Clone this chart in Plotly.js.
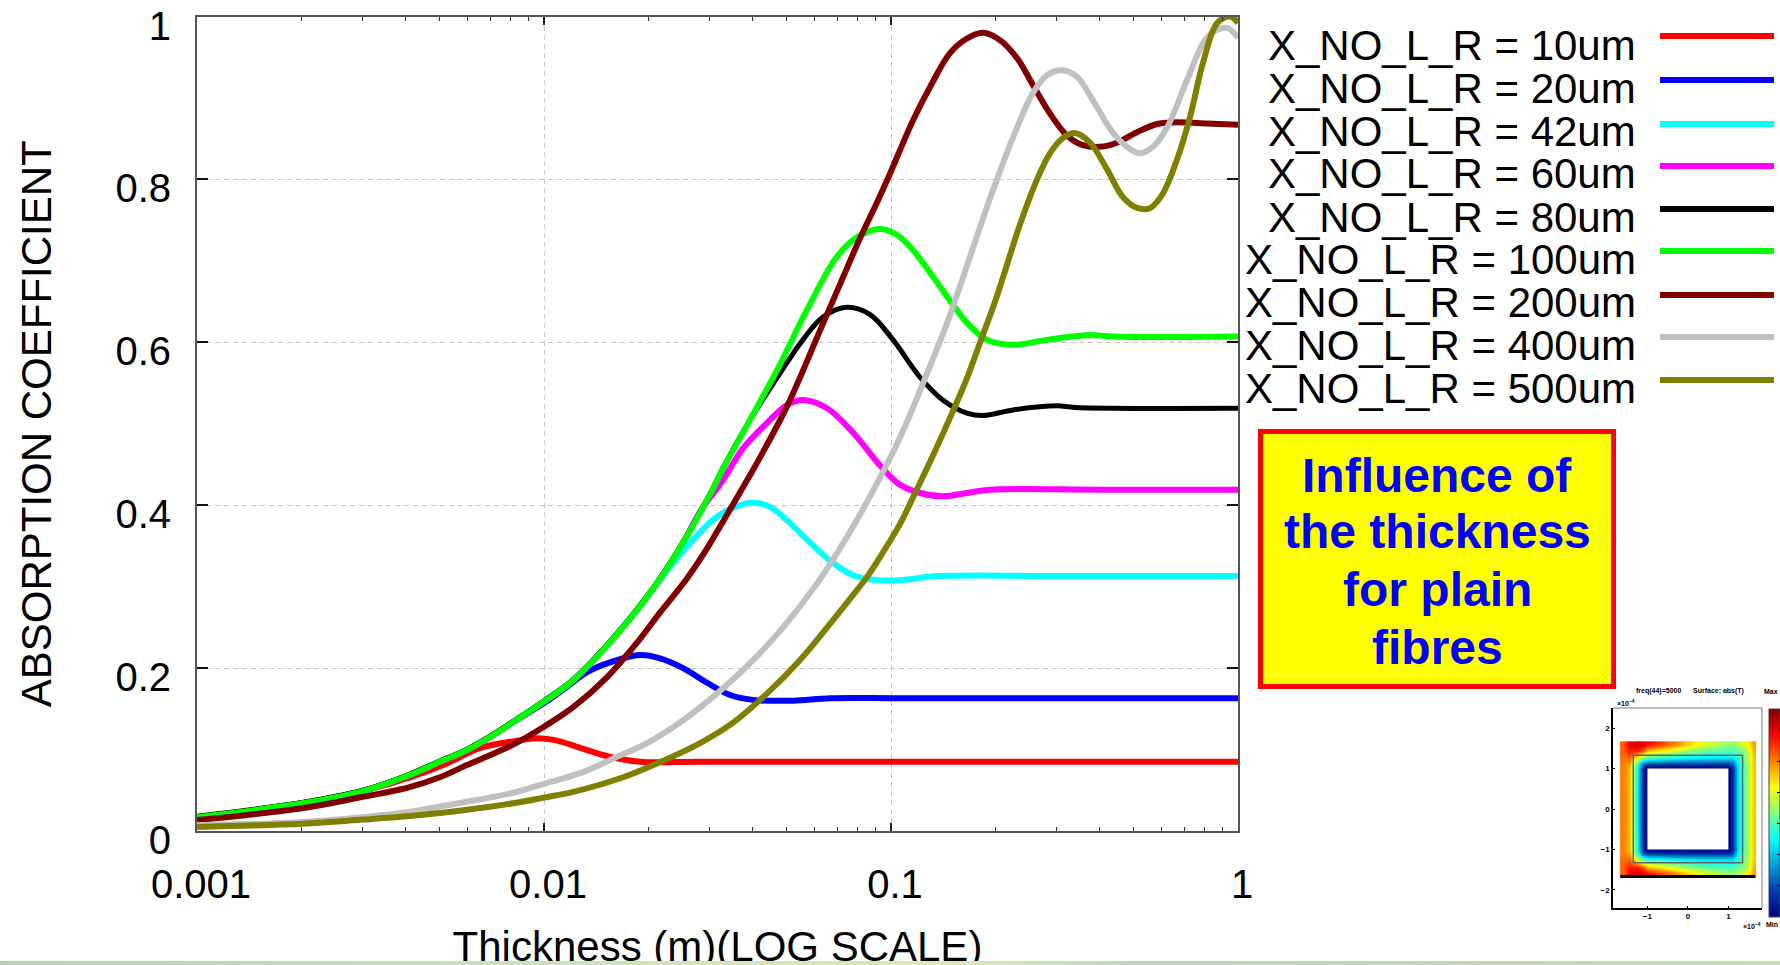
<!DOCTYPE html>
<html><head><meta charset="utf-8">
<script src="https://cdn.plot.ly/plotly-3.0.1.min.js"></script>
<style>html,body{margin:0;padding:0;background:#fff;overflow:hidden;height:965px}
#chart{width:1780px;height:980px}
#strip{position:absolute;left:0;top:961px;width:1780px;height:4px;background:linear-gradient(to right,#bcd0b0,#c8dcb8 22%,#dfe8b8 54%,#bcd8b8 64%,#c8dcb0)}</style>
</head><body><div id="chart"></div><div id="strip"></div>
<script>
const seriesNames=['X_NO_L_R = 10um','X_NO_L_R = 20um','X_NO_L_R = 42um','X_NO_L_R = 60um','X_NO_L_R = 80um','X_NO_L_R = 100um','X_NO_L_R = 200um','X_NO_L_R = 400um','X_NO_L_R = 500um'];
const seriesColors=['#ff0000','#0000ff','#00ffff','#ff00ff','#000000','#00ff00','#800000','#c0c0c0','#808000'];
// thickness as log10(m), absorption coefficient
const log10Red=[-3,-2.697,-2.522,-2.378,-2.28,-2.184,-2.089,-2.02,-1.962,-1.896,-1.81,-1.723,-1.55,-1,-0.5,0];
const absRed=[0.017,0.034,0.049,0.067,0.083,0.102,0.11,0.114,0.111,0.102,0.091,0.085,0.085,0.085,0.085,0.085];
const log10Blue=[-3,-2.697,-2.522,-2.395,-2.3,-2.222,-2.153,-2.095,-2,-1.934,-1.876,-1.81,-1.723,-1.666,-1.599,-1.53,-1.464,-1.398,-1.282,-1.176,-0.974,-0.5,0];
const absBlue=[0.017,0.034,0.049,0.0675,0.085,0.0995,0.116,0.132,0.157,0.177,0.195,0.207,0.216,0.212,0.2,0.182,0.167,0.161,0.16,0.163,0.163,0.163,0.163];
const log10Cyan=[-3,-2.697,-2.522,-2.395,-2.3,-2.222,-2.153,-2.095,-2,-1.919,-1.824,-1.7,-1.645,-1.588,-1.513,-1.455,-1.398,-1.349,-1.291,-1.233,-1.167,-1.109,-1.04,-0.974,-0.862,-0.5,0];
const absCyan=[0.017,0.034,0.049,0.0675,0.085,0.0995,0.116,0.132,0.159,0.184,0.225,0.289,0.32,0.349,0.382,0.397,0.403,0.398,0.378,0.354,0.329,0.314,0.308,0.308,0.313,0.313,0.313];
const log10Magenta=[-3,-2.697,-2.522,-2.395,-2.3,-2.222,-2.153,-2.095,-2,-1.919,-1.824,-1.7,-1.602,-1.55,-1.484,-1.426,-1.357,-1.3,-1.248,-1.184,-1.109,-1.032,-0.974,-0.916,-0.85,-0.781,-0.715,-0.4,0];
const absMagenta=[0.017,0.034,0.049,0.0675,0.085,0.0995,0.116,0.132,0.159,0.184,0.225,0.289,0.352,0.392,0.431,0.47,0.501,0.523,0.529,0.519,0.489,0.449,0.425,0.415,0.411,0.415,0.419,0.419,0.419];
const log10Black=[-3,-2.697,-2.522,-2.395,-2.3,-2.222,-2.153,-2.095,-2,-1.919,-1.824,-1.7,-1.602,-1.559,-1.513,-1.484,-1.406,-1.32,-1.254,-1.196,-1.127,-1.06,-0.994,-0.916,-0.85,-0.781,-0.735,-0.648,-0.521,-0.47,0];
const absBlack=[0.018,0.035,0.05,0.0685,0.086,0.1005,0.117,0.133,0.16,0.185,0.226,0.29,0.353,0.385,0.421,0.446,0.505,0.562,0.603,0.631,0.643,0.634,0.603,0.557,0.529,0.513,0.51,0.517,0.522,0.52,0.519];
const log10Green=[-3,-2.697,-2.522,-2.395,-2.3,-2.222,-2.153,-2.095,-2,-1.919,-1.824,-1.7,-1.602,-1.559,-1.513,-1.484,-1.406,-1.328,-1.242,-1.156,-1.098,-1.032,-0.983,-0.936,-0.838,-0.781,-0.723,-0.648,-0.55,-0.475,-0.426,-0.36,0];
const absGreen=[0.017,0.034,0.049,0.0675,0.085,0.0995,0.116,0.132,0.159,0.184,0.225,0.289,0.352,0.384,0.42,0.445,0.505,0.566,0.64,0.705,0.729,0.739,0.732,0.713,0.656,0.624,0.603,0.597,0.603,0.607,0.609,0.607,0.607];
const log10Maroon=[-3,-2.697,-2.522,-2.395,-2.3,-2.222,-2.156,-2.089,-2,-1.916,-1.818,-1.723,-1.666,-1.588,-1.53,-1.473,-1.406,-1.377,-1.3,-1.205,-1.138,-1.089,-1.04,-1.008,-0.936,-0.888,-0.83,-0.781,-0.735,-0.686,-0.637,-0.591,-0.542,-0.493,-0.447,-0.398,-0.349,-0.291,-0.233,-0.187,-0.109,0];
const absMaroon=[0.0135,0.028,0.042,0.053,0.066,0.081,0.093,0.106,0.128,0.152,0.189,0.236,0.268,0.31,0.347,0.388,0.437,0.459,0.521,0.614,0.68,0.728,0.772,0.802,0.873,0.913,0.955,0.973,0.98,0.971,0.949,0.916,0.881,0.854,0.842,0.84,0.845,0.858,0.868,0.87,0.869,0.867];
const log10Grey=[-3,-2.697,-2.522,-2.395,-2.3,-2.222,-2.156,-2.089,-2,-1.896,-1.79,-1.703,-1.599,-1.501,-1.406,-1.311,-1.213,-1.127,-1.04,-0.974,-0.896,-0.838,-0.792,-0.743,-0.706,-0.648,-0.591,-0.55,-0.507,-0.464,-0.418,-0.36,-0.32,-0.282,-0.245,-0.204,-0.147,-0.101,-0.072,-0.032,0];
const absGrey=[0.007,0.011,0.017,0.023,0.03,0.036,0.041,0.047,0.058,0.071,0.091,0.108,0.136,0.169,0.206,0.25,0.304,0.361,0.427,0.483,0.562,0.624,0.68,0.742,0.787,0.852,0.906,0.928,0.934,0.926,0.897,0.857,0.84,0.832,0.84,0.864,0.922,0.967,0.981,0.986,0.974];
const log10Olive=[-3,-2.697,-2.522,-2.395,-2.3,-2.222,-2.089,-2,-1.916,-1.772,-1.674,-1.55,-1.455,-1.357,-1.262,-1.167,-1.118,-1.069,-1.032,-0.974,-0.936,-0.879,-0.824,-0.781,-0.743,-0.7,-0.677,-0.628,-0.579,-0.542,-0.504,-0.47,-0.426,-0.377,-0.331,-0.291,-0.253,-0.216,-0.176,-0.138,-0.101,-0.06,-0.023,0];
const absOlive=[0.005,0.009,0.014,0.018,0.022,0.026,0.034,0.041,0.048,0.066,0.083,0.108,0.133,0.169,0.21,0.259,0.285,0.312,0.336,0.377,0.41,0.461,0.513,0.556,0.6,0.65,0.68,0.745,0.8,0.832,0.851,0.857,0.845,0.812,0.778,0.765,0.765,0.783,0.824,0.877,0.943,0.992,1,0.992];
const logXBySeries=[log10Red,log10Blue,log10Cyan,log10Magenta,log10Black,log10Green,log10Maroon,log10Grey,log10Olive];
const absBySeries=[absRed,absBlue,absCyan,absMagenta,absBlack,absGreen,absMaroon,absGrey,absOlive];
const yTicks=[0,0.2,0.4,0.6,0.8,1];
const yTickText=['0','0.2','0.4','0.6','0.8','1'];
const xTicks=[0.001,0.01,0.1,1];
const xTickText=['0.001','0.01','0.1','1'];
const xMinorTicks=[0.002,0.003,0.004,0.005,0.006,0.007,0.008,0.009,0.02,0.03,0.04,0.05,0.06,0.07,0.08,0.09,0.2,0.3,0.4,0.5,0.6,0.7,0.8,0.9];
const boxLines=['Influence of','the thickness','for plain','fibres'];
// inset temperature map
const insetX=[-1.6,-1.45,-1.25,-1.1,-1,-0.5,0,0.5,1,1.1,1.25,1.45,1.6];
const insetY=[-1.6,-1.45,-1.25,-1.1,-1,-0.5,0,0.5,1,1.1,1.25,1.45,1.6];
const insetZ=[
[.78,.88,.92,.90,.87,.78,.68,.58,.52,.52,.55,.62,.72],
[.78,.85,.85,.80,.70,.62,.52,.47,.45,.45,.47,.55,.70],
[.76,.78,.60,.48,.42,.38,.35,.33,.33,.33,.42,.53,.68],
[.75,.72,.42,.16,.12,.10,.10,.10,.10,.14,.38,.52,.68],
[.75,.70,.38,.08,0,0,0,0,0,.08,.35,.52,.68],
[.75,.70,.37,.08,0,0,0,0,0,.08,.35,.52,.68],
[.75,.70,.37,.08,0,0,0,0,0,.08,.35,.52,.68],
[.75,.70,.37,.08,0,0,0,0,0,.08,.35,.52,.68],
[.75,.70,.38,.08,0,0,0,0,0,.08,.35,.52,.68],
[.75,.72,.42,.16,.12,.10,.10,.10,.10,.14,.38,.52,.68],
[.76,.78,.60,.48,.42,.38,.35,.33,.33,.33,.42,.53,.68],
[.78,.85,.85,.80,.70,.62,.52,.47,.45,.45,.47,.55,.70],
[.78,.88,.92,.90,.87,.78,.68,.58,.52,.52,.55,.62,.72]];

const W=1780,H=980;
const fx=p=>p/W, fy=p=>1-p/H;
const FONT='"Liberation Sans", Arial, sans-serif';
const traces=seriesNames.map((n,i)=>({type:'scatter',mode:'lines',name:n,x:logXBySeries[i].map(v=>Math.pow(10,v)),y:absBySeries[i],
  line:{color:seriesColors[i],width:i===4?5:6,shape:'spline',smoothing:1},cliponaxis:false,hoverinfo:'skip',xaxis:'x',yaxis:'y'}));
traces.push({type:'heatmap',x:insetX,y:insetY,z:insetZ,colorscale:'Jet',zmin:0,zmax:1,zsmooth:'best',xaxis:'x2',yaxis:'y2',hoverinfo:'skip',
  colorbar:{x:fx(1769),xanchor:'left',xpad:0,ypad:0,y:fy(709),yanchor:'top',len:208,lenmode:'pixels',thickness:11,thicknessmode:'pixels',showticklabels:false,ticks:'inside',ticklen:3,tick0:0,dtick:0.15,tickcolor:'#000',outlinewidth:1,outlinecolor:'#444'}});

const legendBase=[60,103,146,188,232,274,317,360,403];
const legendLine=[36,80,124,166,209,251,295,337,380];
const boxBase=[492,548,606,664];
const annotations=[];
seriesNames.forEach((n,i)=>annotations.push({xref:'paper',yref:'paper',x:fx(1637),y:fy(legendBase[i]+10),xanchor:'right',yanchor:'bottom',text:n,showarrow:false,font:{family:FONT,size:42,color:'#000'},borderpad:0}));
boxLines.forEach((t,i)=>annotations.push({xref:'paper',yref:'paper',x:fx(1437),y:fy(boxBase[i]+11),xanchor:'center',yanchor:'bottom',text:t,showarrow:false,font:{family:FONT,size:48,color:'#0000ff',weight:700},borderpad:0}));
const smallFont={family:FONT,size:7,color:'#000',weight:700};
[['freq(44)=5000',1658,691,'center'],['Surface: abs(T)',1718,691,'center'],['Max',1779,691,'right'],['Min',1779,924,'right']].forEach(a=>annotations.push({xref:'paper',yref:'paper',x:fx(a[1]),y:fy(a[2]),xanchor:a[3],yanchor:'middle',text:a[0],showarrow:false,font:smallFont,borderpad:0}));
[['×10<sup>−4</sup>',1626,703],['×10<sup>−4</sup>',1752,926]].forEach(a=>annotations.push({xref:'paper',yref:'paper',x:fx(a[1]),y:fy(a[2]),xanchor:'center',yanchor:'middle',text:a[0],showarrow:false,font:smallFont,borderpad:0}));

const shapes=[];
seriesColors.forEach((c,i)=>shapes.push({type:'line',xref:'paper',yref:'paper',x0:fx(1660),x1:fx(1774),y0:fy(legendLine[i]),y1:fy(legendLine[i]),line:{color:c,width:6}}));
shapes.push({type:'rect',xref:'paper',yref:'paper',x0:fx(1260.5),x1:fx(1613.5),y0:fy(431.5),y1:fy(686.5),fillcolor:'#ffff00',line:{color:'#ff0000',width:5}});
shapes.push({type:'rect',xref:'x2',yref:'y2',x0:-1,x1:1,y0:-1,y1:1,fillcolor:'#fff',line:{width:0}});
shapes.push({type:'rect',xref:'x2',yref:'y2',x0:-1.35,x1:1.35,y0:-1.33,y1:1.33,fillcolor:'rgba(0,0,0,0)',line:{color:'#666',width:1.5}});
shapes.push({type:'line',xref:'x2',yref:'y2',x0:-1.67,x1:1.67,y0:-1.67,y1:-1.67,line:{color:'#000',width:3}});

const layout={width:W,height:H,paper_bgcolor:'#fff',plot_bgcolor:'#fff',showlegend:false,
  margin:{l:0,r:0,t:0,b:0,autoexpand:false},font:{family:FONT,color:'#000'},
  xaxis:{type:'log',domain:[fx(197),fx(1238)],range:[-3,0],anchor:'y',tickmode:'array',tickvals:xTicks,ticktext:xTickText,
    ticks:'inside',ticklen:8,tickwidth:1.5,tickcolor:'#222',tickfont:{size:40,family:FONT,color:'#000'},ticklabelshift:4,ticklabelstandoff:17,
    showline:true,linecolor:'#555',linewidth:2,mirror:'ticks',showgrid:true,gridcolor:'#c4c4c4',griddash:'5px,4px',gridwidth:1,zeroline:false,
    minor:{tickmode:'array',tickvals:xMinorTicks,ticks:'inside',ticklen:4,tickwidth:1,tickcolor:'#333',showgrid:false},
    title:{text:'Thickness (m)(LOG SCALE)',font:{size:42,family:FONT,color:'#000'},standoff:27},automargin:false},
  yaxis:{domain:[fy(831),fy(16.5)],range:[0,1],anchor:'x',tickmode:'array',tickvals:yTicks,ticktext:yTickText,
    ticks:'inside',ticklen:11,tickwidth:1.5,tickcolor:'#111',tickfont:{size:40,family:FONT,color:'#000'},ticklabelshift:9,ticklabelstandoff:16,
    showline:true,linecolor:'#555',linewidth:2,mirror:'ticks',showgrid:true,gridcolor:'#c4c4c4',griddash:'5px,4px',gridwidth:1,zeroline:false,
    title:{text:'ABSORPTION COEFFICIENT',font:{size:42,family:FONT,color:'#000'},standoff:51},automargin:false},
  xaxis2:{domain:[fx(1613),fx(1762)],range:[-1.85,1.83],anchor:'y2',tickvals:[-1,0,1],ticktext:['−1','0','1'],ticks:'inside',ticklen:2,tickcolor:'#000',
    tickfont:{size:8,family:FONT,color:'#000',weight:700},showline:true,linecolor:'#000',linewidth:1.5,mirror:false,showgrid:false,zeroline:false},
  yaxis2:{domain:[fy(908),fy(708)],range:[-2.45,2.5],anchor:'x2',tickvals:[-2,-1,0,1,2],ticktext:['−2','−1','0','1','2'],ticks:'inside',ticklen:2,tickcolor:'#000',
    tickfont:{size:8,family:FONT,color:'#000',weight:700},showline:true,linecolor:'#000',linewidth:1.5,mirror:false,showgrid:false,zeroline:false},
  shapes:shapes,annotations:annotations};
layout.shapes.push({type:'line',xref:'x2 domain',yref:'y2 domain',x0:0,x1:1,y0:1,y1:1,line:{color:'#777',width:1}});
layout.shapes.push({type:'line',xref:'x2 domain',yref:'y2 domain',x0:1,x1:1,y0:0,y1:1,line:{color:'#777',width:1}});
Plotly.newPlot('chart',traces,layout,{displayModeBar:false,responsive:false});
</script></body></html>
